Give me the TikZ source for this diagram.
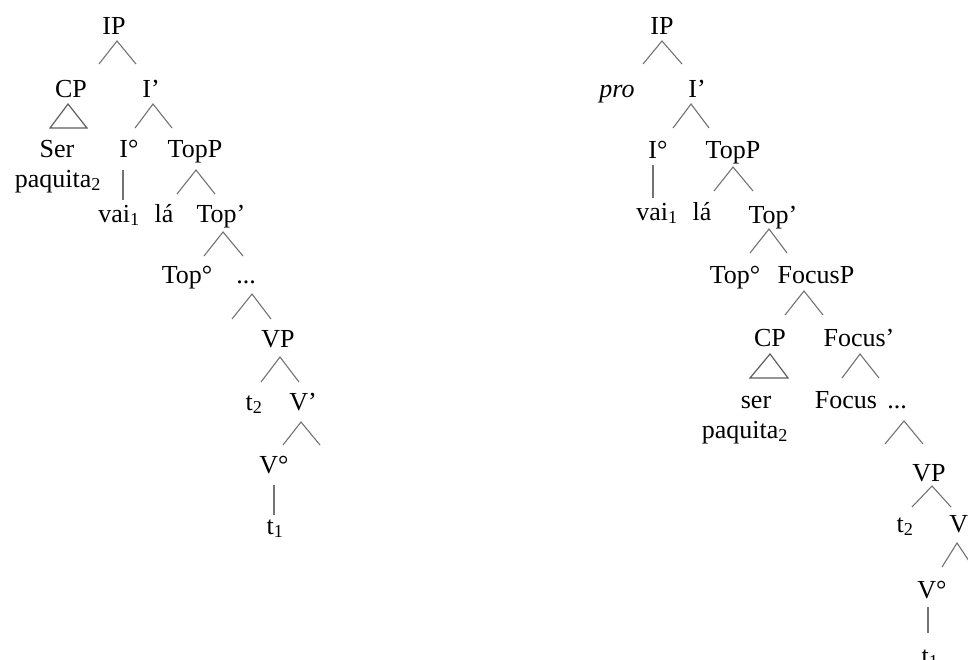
\documentclass[tikz,border=0pt]{standalone}
\usepackage{fontspec}
\setmainfont{Liberation Serif}
\begin{document}
\begin{tikzpicture}[x=1pt,y=-1pt,
  lbl/.style={anchor=base,inner sep=0pt,font=\fontsize{26}{30}\selectfont},
  br/.style={draw={rgb,255:red,115;green,115;blue,115},line width=1.1pt},
  tri/.style={draw={rgb,255:red,95;green,95;blue,95},line width=1.2pt}]
\useasboundingbox (0,0) rectangle (968,659);
\clip (0,0) rectangle (968,659);
\fill[white] (0,0) rectangle (968,659);
% ---------- left tree ----------
\node[lbl] (lIP) at (114,34) {IP};
\node[lbl] (lCP) at (71,97) {CP};
\node[lbl] (lIb) at (151,97) {I’};
\node[lbl] (lSer) at (57,157) {Ser};
\node[lbl] (lPaq) at (58,187) {paquita\textsubscript{2}};
\node[lbl] (lI0) at (129,157) {I°};
\node[lbl] (lTopP) at (195,157) {TopP};
\node[lbl] (lVai) at (119,222) {vai\textsubscript{1}};
\node[lbl] (lLa) at (164,222) {lá};
\node[lbl] (lTopb) at (221,222) {Top’};
\node[lbl] (lTop0) at (187,283) {Top°};
\node[lbl] (lDots) at (246,283) {...};
\node[lbl] (lVP) at (278,347) {VP};
\node[lbl] (lt2) at (254,410) {t\textsubscript{2}};
\node[lbl] (lVb) at (303,410) {V’};
\node[lbl] (lV0) at (274,473) {V°};
\node[lbl] (lt1) at (275,534) {t\textsubscript{1}};
% branch points
\coordinate (a1) at (117,41);  \coordinate (a1l) at (99,64);  \coordinate (a1r) at (136,64);
\coordinate (a2) at (68,104);  \coordinate (a2l) at (50,128); \coordinate (a2r) at (87,128);
\coordinate (a3) at (153,104); \coordinate (a3l) at (135,128); \coordinate (a3r) at (172,128);
\coordinate (a4t) at (123,170); \coordinate (a4b) at (123,200);
\coordinate (a5) at (196,170); \coordinate (a5l) at (177,194); \coordinate (a5r) at (215,194);
\coordinate (a6) at (223,232); \coordinate (a6l) at (204,256); \coordinate (a6r) at (243,256);
\coordinate (a7) at (252,294); \coordinate (a7l) at (232,319); \coordinate (a7r) at (271,319);
\coordinate (a8) at (280,357); \coordinate (a8l) at (261,382); \coordinate (a8r) at (299,382);
\coordinate (a9) at (301,422); \coordinate (a9l) at (283,445); \coordinate (a9r) at (320,445);
\coordinate (a10t) at (274,485); \coordinate (a10b) at (274,515);
\draw[br] (a1l) -- (a1) -- (a1r);
\draw[tri] (a2l) -- (a2) -- (a2r) -- cycle;
\draw[br] (a3l) -- (a3) -- (a3r);
\draw[br] (a4t) -- (a4b);
\draw[br] (a5l) -- (a5) -- (a5r);
\draw[br] (a6l) -- (a6) -- (a6r);
\draw[br] (a7l) -- (a7) -- (a7r);
\draw[br] (a8l) -- (a8) -- (a8r);
\draw[br] (a9l) -- (a9) -- (a9r);
\draw[br] (a10t) -- (a10b);
% ---------- right tree ----------
\node[lbl] (rIP) at (662,34) {IP};
\node[lbl] (rPro) at (617,97) {\itshape pro};
\node[lbl] (rIb) at (697,97) {I’};
\node[lbl] (rI0) at (658,158) {I°};
\node[lbl] (rTopP) at (733,158) {TopP};
\node[lbl] (rVai) at (657,220) {vai\textsubscript{1}};
\node[lbl] (rLa) at (702,220) {lá};
\node[lbl] (rTopb) at (773,223) {Top’};
\node[lbl] (rTop0) at (735,283) {Top°};
\node[lbl] (rFocP) at (816,283) {FocusP};
\node[lbl] (rCP) at (770,346) {CP};
\node[lbl] (rFocb) at (859,346) {Focus’};
\node[lbl] (rSer) at (756,408) {ser};
\node[lbl] (rPaq) at (745,438) {paquita\textsubscript{2}};
\node[lbl] (rFoc) at (846,408) {Focus};
\node[lbl] (rDots) at (897,408) {...};
\node[lbl] (rVP) at (929,481) {VP};
\node[lbl] (rt2) at (905,532) {t\textsubscript{2}};
\node[lbl] (rVb) at (963,532) {V’};
\node[lbl] (rV0) at (932,598) {V°};
\node[lbl] (rt1) at (930,664) {t\textsubscript{1}};
\coordinate (b1) at (662,41);  \coordinate (b1l) at (643,64);  \coordinate (b1r) at (682,64);
\coordinate (b2) at (691,104); \coordinate (b2l) at (673,128); \coordinate (b2r) at (709,128);
\coordinate (b3t) at (653,165); \coordinate (b3b) at (653,198);
\coordinate (b4) at (733,167); \coordinate (b4l) at (714,191); \coordinate (b4r) at (753,191);
\coordinate (b5) at (769,229); \coordinate (b5l) at (750,253); \coordinate (b5r) at (787,253);
\coordinate (b6) at (804,291); \coordinate (b6l) at (785,315); \coordinate (b6r) at (823,315);
\coordinate (b7) at (770,354); \coordinate (b7l) at (750,378); \coordinate (b7r) at (788,378);
\coordinate (b8) at (860,354); \coordinate (b8l) at (842,378); \coordinate (b8r) at (879,378);
\coordinate (b9) at (904,421); \coordinate (b9l) at (885,444); \coordinate (b9r) at (923,444);
\coordinate (b10) at (932,486); \coordinate (b10l) at (912,507); \coordinate (b10r) at (951,507);
\coordinate (b11) at (957,543); \coordinate (b11l) at (942,567); \coordinate (b11r) at (973,567);
\coordinate (b12t) at (928,607); \coordinate (b12b) at (928,633);
\draw[br] (b1l) -- (b1) -- (b1r);
\draw[br] (b2l) -- (b2) -- (b2r);
\draw[br] (b3t) -- (b3b);
\draw[br] (b4l) -- (b4) -- (b4r);
\draw[br] (b5l) -- (b5) -- (b5r);
\draw[br] (b6l) -- (b6) -- (b6r);
\draw[tri] (b7l) -- (b7) -- (b7r) -- cycle;
\draw[br] (b8l) -- (b8) -- (b8r);
\draw[br] (b9l) -- (b9) -- (b9r);
\draw[br] (b10l) -- (b10) -- (b10r);
\draw[br] (b11l) -- (b11) -- (b11r);
\draw[br] (b12t) -- (b12b);
\end{tikzpicture}
\end{document}
